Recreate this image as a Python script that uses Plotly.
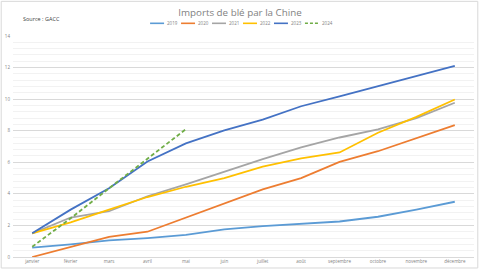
import plotly.graph_objects as go

months = ["janvier", "février", "mars", "avril", "mai", "juin", "juillet",
          "août", "septembre", "octobre", "novembre", "décembre"]
y2019 = [0.6, 0.8, 1.05, 1.2, 1.4, 1.75, 1.95, 2.1, 2.25, 2.55, 3.0, 3.5]
y2020 = [0.0, 0.65, 1.27, 1.6, 2.5, 3.38, 4.28, 5.0, 6.03, 6.7, 7.55, 8.35]
y2021 = [1.5, 2.5, 2.9, 3.85, 4.6, 5.42, 6.2, 6.95, 7.57, 8.08, 8.8, 9.77]
y2022 = [1.5, 2.2, 3.0, 3.8, 4.45, 5.0, 5.72, 6.25, 6.62, 7.87, 8.88, 9.98]
y2023 = [1.5, 3.0, 4.35, 6.05, 7.2, 8.02, 8.7, 9.55, 10.18, 10.83, 11.47, 12.1]
y2024 = [0.65, 2.45, 4.35, 6.25, 8.1]

series = [
    ("2019", y2019, "#5B9BD5", "solid"),
    ("2020", y2020, "#ED7D31", "solid"),
    ("2021", y2021, "#A5A5A5", "solid"),
    ("2022", y2022, "#FFC000", "solid"),
    ("2023", y2023, "#4472C4", "solid"),
    ("2024", y2024, "#70AD47", "4px,2.5px"),
]

W, H = 480, 270
L, R, T, B = 12.8, 5.8, 35.7, 13.0
PW, PH = W - L - R, H - T - B

def px(x):
    return (x - L) / PW

def py(y):
    return (H - B - y) / PH

FONT = "Open Sans"
fig = go.Figure()
for name, vals, color, dash in series:
    fig.add_trace(go.Scatter(
        x=months[:len(vals)], y=vals, mode="lines", name=name,
        line=dict(color=color, width=1.8, dash=dash), showlegend=False))

shapes = []
annotations = []
# custom compact legend (Excel style)
for i, (name, vals, color, dash) in enumerate(series):
    x0 = 150 + 31 * i
    shapes.append(dict(type="line", xref="paper", yref="paper",
                       x0=px(x0), x1=px(x0 + 14), y0=py(23), y1=py(23),
                       line=dict(color=color, width=1.6,
                                 dash="3px,2px" if dash != "solid" else "solid")))
    annotations.append(dict(xref="paper", yref="paper", x=px(x0 + 15), y=py(23),
                            text=name, showarrow=False, xanchor="left", yanchor="middle",
                            font=dict(family=FONT, size=4.5, color="#7F7F7F")))

annotations.append(dict(xref="paper", yref="paper", x=px(21), y=py(19),
                        text="Source : GACC", showarrow=False, xanchor="left",
                        yanchor="middle",
                        font=dict(family=FONT, size=5.5, color="#404040")))

shapes.append(dict(type="rect", xref="paper", yref="paper",
                   x0=px(1), x1=px(478), y0=py(1), y1=py(268),
                   line=dict(color="#D9D9D9", width=1), layer="below"))

fig.update_layout(
    width=W, height=H,
    margin=dict(l=L, r=R, t=T, b=B, autoexpand=False),
    paper_bgcolor="white", plot_bgcolor="white",
    title=dict(text="Imports de blé par la Chine", x=0.5, xanchor="center",
               y=1 - 13 / H, yanchor="middle",
               font=dict(family=FONT, size=9.8, color="#7F7F7F")),
    showlegend=False,
    shapes=shapes, annotations=annotations,
    font=dict(family=FONT, size=4.5, color="#7F7F7F"),
)
fig.update_xaxes(type="category", range=[-0.5, 11.5], showgrid=False,
                 showline=True, linecolor="#D9D9D9", linewidth=1,
                 ticks="", tickfont=dict(size=4.5, color="#7F7F7F"),
                 automargin=False, fixedrange=True)
fig.update_yaxes(range=[0, 14], dtick=2, showgrid=True, gridcolor="#D9D9D9",
                 gridwidth=1, zeroline=False, showline=False,
                 minor=dict(dtick=0.4, showgrid=True, gridcolor="#F2F2F2", gridwidth=1),
                 tickfont=dict(size=4.5, color="#7F7F7F"), automargin=False,
                 ticklabelstandoff=2, fixedrange=True)

fig.write_html("out.html")
